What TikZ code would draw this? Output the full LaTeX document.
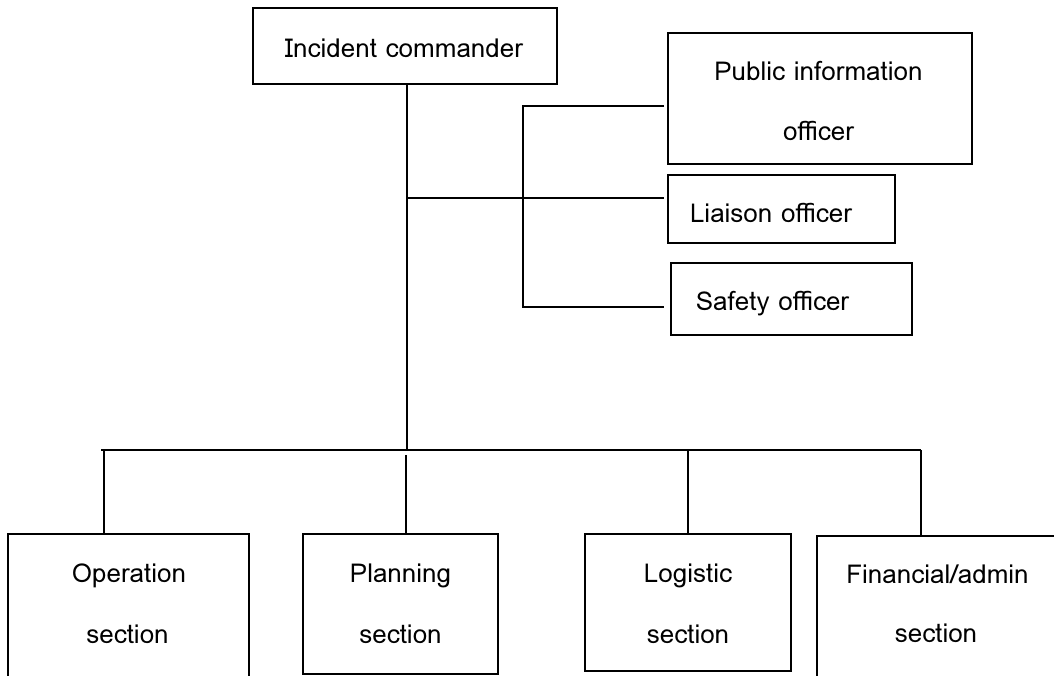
\documentclass[tikz,border=0pt]{standalone}
\usepackage{fontspec}
\setmainfont{Loma}
\begin{document}
\begin{tikzpicture}[x=1pt,y=-1pt,
  box/.style={draw,line width=2pt,rectangle,inner sep=0pt},
  conn/.style={line width=2pt},
  lbl/.style={anchor=base,inner sep=0pt,font=\fontsize{26}{30}\selectfont}]
\useasboundingbox (0,0) rectangle (1054,675);
\clip (0,0) rectangle (1054,675);
% boxes
\node[box,minimum width=304pt,minimum height=76pt] (ic) at (405,46) {};
\node[box,minimum width=304pt,minimum height=131pt] (pio) at (820,98.5) {};
\node[box,minimum width=227pt,minimum height=68pt] (lia) at (781.5,209) {};
\node[box,minimum width=241pt,minimum height=72pt] (saf) at (791.5,299) {};
\node[box,minimum width=241pt,minimum height=166pt] (ops) at (128.5,617) {};
\node[box,minimum width=195pt,minimum height=140pt] (pla) at (400.5,604) {};
\node[box,minimum width=206pt,minimum height=137pt] (log) at (688,602.5) {};
\node[box,minimum width=243pt,minimum height=164pt] (fin) at (938.5,618) {};
% labels
\node[lbl] (ic-t) at (404,57) {Incident commander};
\node[lbl] (pio-t1) at (818.5,80) {Public information};
\node[lbl] (pio-t2) at (818.5,140) {officer};
\node[lbl] (lia-t) at (771,222) {Liaison officer};
\node[lbl] (saf-t) at (772.5,310) {Safety officer};
\node[lbl] (ops-t1) at (129,582) {Operation};
\node[lbl] (ops-t2) at (127.5,643) {section};
\node[lbl] (pla-t1) at (400.5,582) {Planning};
\node[lbl] (pla-t2) at (400.5,643) {section};
\node[lbl] (log-t1) at (688,582) {Logistic};
\node[lbl] (log-t2) at (688,643) {section};
\node[lbl] (fin-t1) at (937.5,583) {Financial/admin};
\node[lbl] (fin-t2) at (936,642) {section};
% junctions
\coordinate (hub) at (407,450);
\coordinate (mid) at (407,198);
\coordinate (br1) at (523,106);
\coordinate (br2) at (523,307);
\coordinate (busL) at (101,450);
\coordinate (busR) at (921,450);
% connectors
\draw[conn] (ic.south -| hub) -- (hub);
\draw[conn] (mid) -- ([xshift=-3pt]lia.west |- mid);
\draw[conn] ([xshift=-3pt]pio.west |- br1) -- (br1) -- (br2) -- ([xshift=-6pt]saf.west |- br2);
\draw[conn] (busL) -- (busR);
\draw[conn] (104,450) -- (ops.north -| 104,0);
\draw[conn] (406,455) -- (pla.north -| 406,0);
\draw[conn] (log.north |- busL) -- (log.north);
\draw[conn] (busR) -- (fin.north -| busR);
\end{tikzpicture}
\end{document}
